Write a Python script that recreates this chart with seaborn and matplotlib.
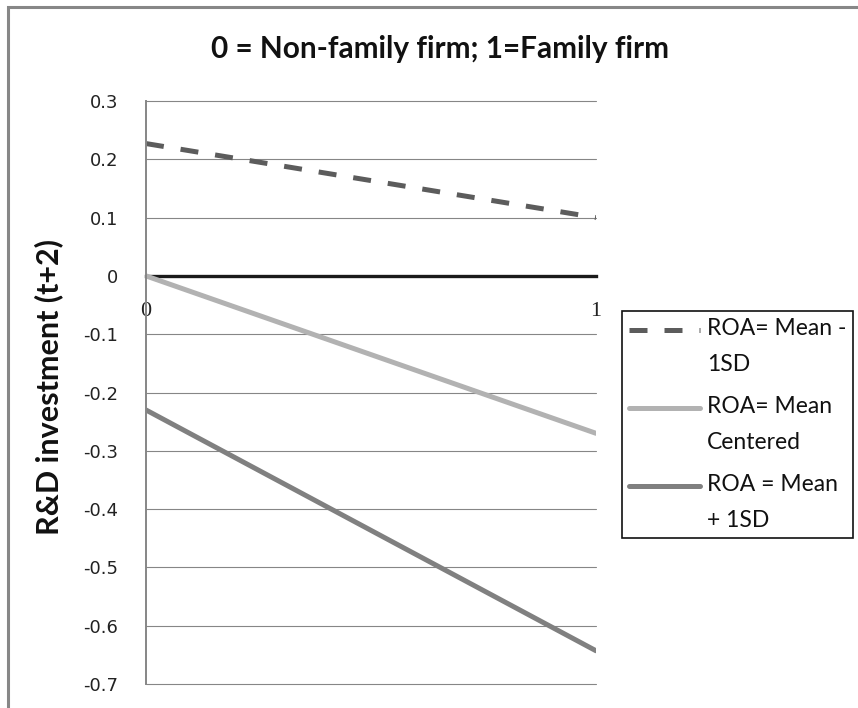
import numpy as np
import pandas as pd
import matplotlib
matplotlib.use("Agg")
import matplotlib.pyplot as plt
import seaborn as sns
from matplotlib.lines import Line2D
from matplotlib.legend_handler import HandlerLine2D

#Chart data
x_vals = [0, 1]
mean_minus_1sd = [0.227, 0.10]
mean_centered = [0.0, -0.27]
mean_plus_1sd = [-0.23, -0.643]
series_labels = ["ROA= Mean -\n1SD", "ROA= Mean\nCentered", "ROA = Mean\n+ 1SD"]
y_ticks = [0.3, 0.2, 0.1, 0.0, -0.1, -0.2, -0.3, -0.4, -0.5, -0.6, -0.7]
y_tick_labels = ["0.3", "0.2", "0.1", "0", "-0.1", "-0.2", "-0.3", "-0.4", "-0.5", "-0.6", "-0.7"]
x_tick_labels = ["0", "1"]
title_text = "0 = Non-family firm; 1=Family firm"
y_label = "R&D investment (t+2)"

df = pd.DataFrame({
    "x": x_vals * 3,
    "y": mean_minus_1sd + mean_centered + mean_plus_1sd,
    "series": [series_labels[0]] * 2 + [series_labels[1]] * 2 + [series_labels[2]] * 2,
})

colors = {series_labels[0]: "#5c5c5c", series_labels[1]: "#b2b2b2", series_labels[2]: "#808080"}
dash_map = {series_labels[0]: (3.6, 3.4), series_labels[1]: "", series_labels[2]: ""}

sns.set_style("white")
plt.rcParams["font.family"] = ["Lato", "DejaVu Sans"]

W, H = 858, 708
fig = plt.figure(figsize=(W / 100, H / 100), dpi=100)
ax = fig.add_axes([146 / W, 1 - 684 / H, (596 - 146) / W, (684 - 101) / H])

#x axis crosses at zero (set before styling ticks, it resets them)
ax.spines["bottom"].set_position(("data", 0))

sns.lineplot(data=df, x="x", y="y", hue="series", style="series", palette=colors,
             dashes=dash_map, linewidth=3.6, errorbar=None, legend=False, ax=ax)
handles = list(ax.lines[:3])

ax.set_xlim(0, 1)
ax.set_ylim(-0.7, 0.3)
ax.set_yticks(y_ticks)
ax.set_yticklabels(y_tick_labels, fontsize=13, color="#222222", family="DejaVu Sans")
ax.set_xticks([0, 1])
ax.set_xticklabels(x_tick_labels, fontsize=16, color="#222222", family="Liberation Serif")
ax.tick_params(axis="y", length=0, pad=20)
ax.tick_params(axis="x", length=0, pad=19)

ax.yaxis.grid(True, color="#868686", linewidth=0.8)
ax.xaxis.grid(False)
for gl in ax.get_ygridlines():
    gl.set_clip_on(False)

ax.spines["top"].set_visible(False)
ax.spines["right"].set_visible(False)
ax.spines["left"].set_color("#868686")
ax.spines["left"].set_linewidth(1.4)
ax.spines["bottom"].set_color("#1a1a1a")
ax.spines["bottom"].set_linewidth(2.4)
ax.spines["bottom"].set_zorder(1)

ax.set_xlabel("")
ax.set_ylabel(y_label, fontsize=22, fontweight="bold", color="#111111")
ax.yaxis.set_label_coords(-0.184, 0.51)

fig.text(440 / W, 1 - 58 / H, title_text, ha="center", va="baseline",
         fontsize=21.4, fontweight="bold", color="#111111")


#legend handles sit on the first text line
class FirstLineHandler(HandlerLine2D):
    def create_artists(self, legend, orig_handle, xdescent, ydescent, width, height, fontsize, trans):
        arts = super().create_artists(legend, orig_handle, xdescent, ydescent, width, height, fontsize, trans)
        for a in arts:
            a.set_ydata(np.asarray(a.get_ydata()) + 12)
        return arts


leg = ax.legend(handles, series_labels, handler_map={Line2D: FirstLineHandler()},
                loc="upper left", bbox_to_anchor=(622 / W, 1 - 311 / H),
                bbox_transform=fig.transFigure, borderaxespad=0, fontsize=16.5,
                frameon=True, fancybox=False, shadow=False, framealpha=1,
                handlelength=3.1, handletextpad=0.3, labelspacing=0.9, borderpad=0.3)
leg.get_frame().set_edgecolor("#111111")
leg.get_frame().set_linewidth(1.2)
for t in leg.get_texts():
    t.set_linespacing(1.9)
    t.set_color("#111111")

#outer chart frame
fig.add_artist(Line2D([8 / W, 8 / W, 1], [0, 1 - 7 / H, 1 - 7 / H], transform=fig.transFigure,
                      color="#878787", linewidth=2.2, solid_joinstyle="miter"))

plt.savefig("out.png", dpi=100)
